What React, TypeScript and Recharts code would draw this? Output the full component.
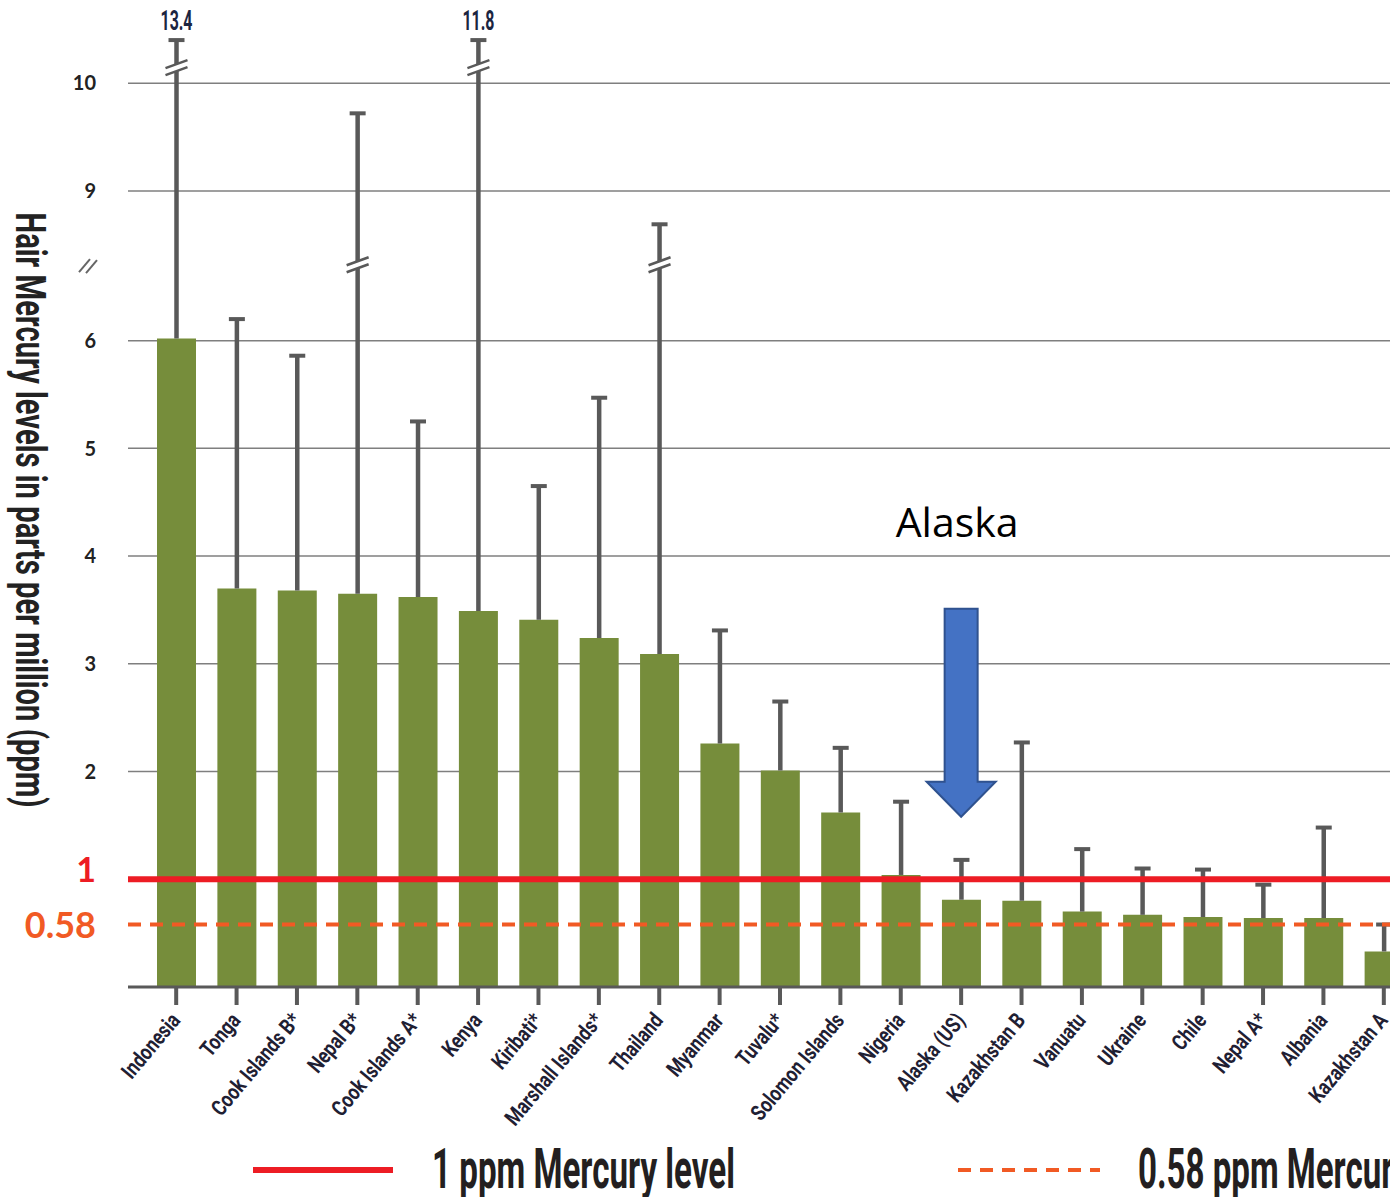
import React from 'react';
import { BarChart, Bar, XAxis, YAxis, CartesianGrid, ReferenceLine, ReferenceDot } from 'recharts';

const countries = [
  'Indonesia', 'Tonga', 'Cook Islands B*', 'Nepal B*', 'Cook Islands A*', 'Kenya', 'Kiribati*',
  'Marshall Islands*', 'Thailand', 'Myanmar', 'Tuvalu*', 'Solomon Islands', 'Nigeria', 'Alaska (US)',
  'Kazakhstan B', 'Vanuatu', 'Ukraine', 'Chile', 'Nepal A*', 'Albania', 'Kazakhstan A',
];
// mean hair mercury (ppm)
const meanPpm = [6.02, 3.7, 3.68, 3.65, 3.62, 3.49, 3.41, 3.24, 3.09, 2.26, 2.01, 1.62, 1.04, 0.81, 0.8, 0.7, 0.67, 0.65, 0.64, 0.64, 0.33];
// top of the whisker (ppm)
const upperPpm = [13.4, 6.2, 5.86, 9.72, 5.25, 11.8, 4.65, 5.47, 8.69, 3.31, 2.65, 2.22, 1.72, 1.18, 2.27, 1.28, 1.1, 1.09, 0.95, 1.48, 0.58];

const yTickValues = [0.58, 1, 2, 3, 4, 5, 6, 9, 10];
const gridValues = [2, 3, 4, 5, 6, 9, 10];

// broken axis: 6.7 - 8.31 ppm is cut out, whiskers above 10.4 get clipped
const BREAK_LOW = 6.7;
const BREAK_HIGH = 8.31;
const CLIP = 10.4;
const TOP_BREAK = 10.14;

const toAxis = (v: number) => (v <= BREAK_LOW ? v : v >= BREAK_HIGH ? v - (BREAK_HIGH - BREAK_LOW) : BREAK_LOW);

const GREEN = '#768d3b';
const WHISKER = '#595959';
const RED = '#ed1c24';
const ORANGE = '#f15a24';

const rows = countries.map((name, i) => {
  const meanD = toAxis(meanPpm[i]);
  const topD = toAxis(Math.min(upperPpm[i], CLIP));
  let breakD: number | null = null;
  if (upperPpm[i] > CLIP) breakD = toAxis(TOP_BREAK);
  else if (upperPpm[i] > BREAK_HIGH) breakD = BREAK_LOW;
  return {
    name,
    meanD,
    errD: topD - meanD,
    topD,
    breakD,
    topLabel: upperPpm[i] > CLIP ? String(upperPpm[i]) : null,
  };
});

const yTicks = [...yTickValues.map(toAxis), BREAK_LOW].sort((a, b) => a - b);

const YTick = (props: any) => {
  const { x, y, payload } = props;
  const v = payload.value;
  if (Math.abs(v - BREAK_LOW) < 1e-6) {
    return (
      <g stroke="#666" strokeWidth={2}>
        <line x1={x - 17} y1={y + 7} x2={x - 6} y2={y - 6} />
        <line x1={x - 10} y1={y + 8} x2={x + 1} y2={y - 5} />
      </g>
    );
  }
  const real = yTickValues.find((t) => Math.abs(toAxis(t) - v) < 1e-6);
  if (real === 1) {
    return (
      <text x={x} y={y - 10} dy="0.36em" textAnchor="end" fill={RED} fontSize={34} fontWeight={700} fontFamily="Lato, sans-serif">1</text>
    );
  }
  if (real === 0.58) {
    return (
      <text x={x} y={y + 1} dy="0.36em" textAnchor="end" fill={ORANGE} fontSize={36} fontWeight={700} fontFamily="Lato, sans-serif">0.58</text>
    );
  }
  return (
    <text x={x} y={y} dy="0.36em" textAnchor="end" fill="#222" fontSize={20} fontWeight={700} fontFamily="Lato, sans-serif">{real}</text>
  );
};

const XTick = (props: any) => {
  const { x, y, payload } = props;
  return (
    <g transform={`translate(${x + 5},${y + 14}) rotate(-50) scale(0.8,1)`}>
      <text textAnchor="end" fontFamily="Roboto, sans-serif" fontWeight={700} fontSize={22} fill="#1f2033">{payload.value}</text>
    </g>
  );
};

const Whisker = (props: any) => {
  const { x, y, width, height, payload } = props;
  if (!payload || !(height > 0)) return null;
  const cx = x + width / 2;
  const pxPerUnit = height / payload.errD;
  const by = payload.breakD != null ? y + (payload.topD - payload.breakD) * pxPerUnit : null;
  return (
    <g>
      <line x1={cx} x2={cx} y1={y} y2={y + height} stroke={WHISKER} strokeWidth={4.5} />
      <line x1={cx - 8} x2={cx + 8} y1={y} y2={y} stroke={WHISKER} strokeWidth={4} />
      {by != null && (
        <g>
          <polygon points={`${cx - 11},${by} ${cx + 11},${by - 8} ${cx + 11},${by - 1} ${cx - 11},${by + 7}`} fill="#fff" />
          <line x1={cx - 11} y1={by} x2={cx + 11} y2={by - 8} stroke={WHISKER} strokeWidth={2.5} />
          <line x1={cx - 11} y1={by + 7} x2={cx + 11} y2={by - 1} stroke={WHISKER} strokeWidth={2.5} />
        </g>
      )}
      {payload.topLabel && (
        <text x={cx} y={y - 10} textAnchor="middle" fontFamily="Roboto, sans-serif" fontWeight={700} fontSize={27} fill="#1c2541" textLength={32} lengthAdjust="spacingAndGlyphs">
          {payload.topLabel}
        </text>
      )}
    </g>
  );
};

const AlaskaArrow = (props: any) => {
  const { cx, cy } = props;
  const pts = [
    [cx - 16.5, cy - 208], [cx + 16.5, cy - 208], [cx + 16.5, cy - 35], [cx + 34.5, cy - 35],
    [cx, cy], [cx - 34.5, cy - 35], [cx - 16.5, cy - 35],
  ].map((p) => p.join(',')).join(' ');
  return (
    <g>
      <polygon points={pts} fill="#4472c4" stroke="#2f528f" strokeWidth={2} />
      <text x={cx - 4} y={cy - 280} textAnchor="middle" fontFamily="'Open Sans', sans-serif" fontSize={41} fill="#000">Alaska</text>
    </g>
  );
};

export default function App() {
  return (
    <div style={{ position: 'absolute', left: 0, top: 0, width: 1390, height: 1197, overflow: 'hidden', background: '#fff' }}>
      <BarChart width={1430} height={1197} data={rows} margin={{ top: 39, right: 16, bottom: 80, left: 0 }}>
        <CartesianGrid vertical={false} horizontalValues={gridValues.map(toAxis)} stroke="#7f7f7f" strokeWidth={1.5} />
        <XAxis
          dataKey="name"
          interval={0}
          height={130}
          padding={{ left: 18, right: 0 }}
          axisLine={{ stroke: WHISKER, strokeWidth: 3 }}
          tickLine={{ stroke: WHISKER, strokeWidth: 4 }}
          tickSize={18}
          tick={<XTick />}
        />
        <YAxis
          type="number"
          domain={[0, 8.8]}
          ticks={yTicks}
          interval={0}
          width={128}
          axisLine={false}
          tickLine={false}
          tickSize={0}
          tickMargin={32}
          tick={<YTick />}
        />
        <Bar dataKey="meanD" stackId="s" fill={GREEN} barSize={39} isAnimationActive={false} />
        <Bar dataKey="errD" stackId="s" barSize={39} shape={<Whisker />} isAnimationActive={false} />
        <ReferenceLine y={toAxis(0.58)} stroke={ORANGE} strokeWidth={4} strokeDasharray="13 9" />
        <ReferenceLine y={toAxis(1)} stroke={RED} strokeWidth={6} />
        <ReferenceDot x="Alaska (US)" y={1.58} r={0} shape={<AlaskaArrow />} />
      </BarChart>
      <svg width={1390} height={1197} style={{ position: 'absolute', left: 0, top: 0, pointerEvents: 'none' }}>
        <text
          transform="translate(16,510) rotate(90)"
          textAnchor="middle"
          fontFamily="Roboto, sans-serif"
          fontWeight={700}
          fontSize={42}
          fill="#222"
          textLength={595}
          lengthAdjust="spacingAndGlyphs"
        >
          Hair Mercury levels in parts per million (ppm)
        </text>
        <line x1={253} x2={393} y1={1170} y2={1170} stroke={RED} strokeWidth={6} />
        <text x={432} y={1188} fontFamily="Roboto, sans-serif" fontWeight={700} fontSize={56} fill="#231f20" textLength={303} lengthAdjust="spacingAndGlyphs">
          1 ppm Mercury level
        </text>
        <line x1={958} x2={1100} y1={1170} y2={1170} stroke={ORANGE} strokeWidth={4} strokeDasharray="13 9" />
        <text x={1138} y={1188} fontFamily="Roboto, sans-serif" fontWeight={700} fontSize={56} fill="#231f20" textLength={350} lengthAdjust="spacingAndGlyphs">
          0.58 ppm Mercury level
        </text>
      </svg>
    </div>
  );
}
